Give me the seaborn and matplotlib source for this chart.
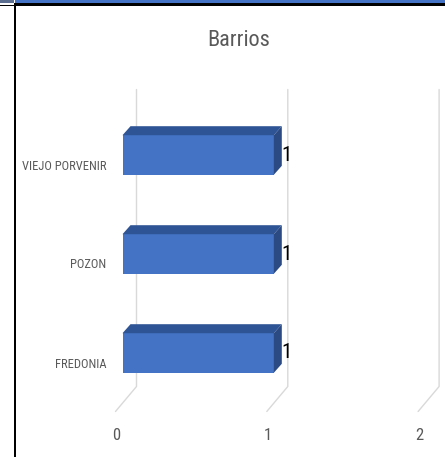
import numpy as np
import pandas as pd
import matplotlib
matplotlib.use('Agg')
import matplotlib.pyplot as plt
import matplotlib.font_manager as fm
import seaborn as sns
from matplotlib.patches import Polygon, Rectangle
from matplotlib.lines import Line2D
from matplotlib.transforms import ScaledTranslation, IdentityTransform

# datos del grafico
categorias = ['VIEJO PORVENIR', 'POZON', 'FREDONIA']
valores = [1, 1, 1]
ticks_x = [0, 1, 2]
titulo = 'Barrios'

W, H = 445, 457
sns.set_style('white')

# fuente angosta si existe (estilo Calibri comprimido), si no Liberation Sans
disponibles = {f.name for f in fm.fontManager.ttflist}
angostas = [n for n in ['Liberation Sans Narrow', 'Roboto Condensed', 'Noto Sans Condensed',
                        'Open Sans Condensed', 'DejaVu Sans Condensed'] if n in disponibles]
plt.rcParams['font.family'] = angostas + ['Liberation Sans', 'DejaVu Sans']
esc = 1.0 if angostas else 0.85

fig = plt.figure(figsize=(W / 100, H / 100), dpi=100)
ax = fig.add_axes([122.5 / W, (H - 402.5) / H, 302.6 / W, 297 / H])

df = pd.DataFrame({'barrio': categorias, 'cantidad': valores})
sns.barplot(data=df, x='cantidad', y='barrio', orient='h', width=0.4,
            color='#4472C4', saturation=1, linewidth=0, ax=ax, zorder=2)

ax.set_xlim(0, 2)
ax.set_ylim(2.5, -0.5)
ax.set_xticks(ticks_x)
ax.set_xticklabels([str(t) for t in ticks_x])
ax.set_xlabel('')
ax.set_ylabel('')
for s in ax.spines.values():
    s.set_visible(False)
ax.set_facecolor('none')
ax.tick_params(axis='both', length=0)
ax.tick_params(axis='y', pad=16.5 * 0.72, labelsize=9 * esc, labelcolor='#595959')
ax.tick_params(axis='x', pad=26 * 0.72, labelsize=12, labelcolor='#595959')

# etiquetas en el plano frontal (efecto 3D)
for lab in ax.get_yticklabels():
    lab.set_transform(lab.get_transform() + ScaledTranslation(0, -9.5 / 100, fig.dpi_scale_trans))
for lab in ax.get_xticklabels():
    lab.set_transform(lab.get_transform() + ScaledTranslation(-6 / 100, 0, fig.dpi_scale_trans))

# caras superior y lateral de las barras
dx, dy = 8, 9
for bar in list(ax.patches):
    x0, y0 = bar.get_x(), bar.get_y()
    x1, y1 = x0 + bar.get_width(), y0 + bar.get_height()
    (pa, qa), (pb, qb) = ax.transData.transform([(x0, y0), (x1, y1)])
    px0, px1 = min(pa, pb), max(pa, pb)
    ptop, pbot = max(qa, qb), min(qa, qb)
    top = [(px0, ptop), (px1, ptop), (px1 + dx, ptop + dy), (px0 + dx, ptop + dy)]
    side = [(px1, ptop), (px1, pbot), (px1 + dx, pbot + dy), (px1 + dx, ptop + dy)]
    ax.add_patch(Polygon(top, closed=True, transform=IdentityTransform(), clip_on=False,
                         facecolor='#2F5496', edgecolor='none', zorder=2))
    ax.add_patch(Polygon(side, closed=True, transform=IdentityTransform(), clip_on=False,
                         facecolor='#2B4A84', edgecolor='none', zorder=2))

# lineas de cuadricula (pared del fondo + piso)
yb = ax.transData.transform((0, 2.5))[1]
yt = ax.transData.transform((0, -0.5))[1]
for t in ticks_x:
    px = ax.transData.transform((t, 2.5))[0]
    ax.add_line(Line2D([px - 7, px + 14, px + 14], [yb - 9, yb + 16, yt + 16],
                       transform=IdentityTransform(), color='#D9D9D9', lw=1,
                       clip_on=False, zorder=0.5))

ax.bar_label(ax.containers[0], labels=[str(v) for v in valores],
             padding=8 * 0.72, fontsize=15, color='black')

fig.text(239 / W, 1 - 40 / H, titulo, ha='center', va='center', fontsize=16, color='#595959')

# bordes de la captura
fig.add_artist(Rectangle((15, H - 3), W - 15, 3, transform=IdentityTransform(), color='#4472C4', lw=0))
fig.add_artist(Rectangle((0, H - 3), 14, 3, transform=IdentityTransform(), color='#5D6F91', lw=0))
fig.add_artist(Rectangle((14, H - 6), W - 14, 2.7, transform=IdentityTransform(), color='black', lw=0))
fig.add_artist(Rectangle((0, H - 6), 14, 1.3, transform=IdentityTransform(), color='black', lw=0))
fig.add_artist(Rectangle((14, 0), 1.7, H - 3, transform=IdentityTransform(), color='black', lw=0))

fig.savefig('out.png', dpi=100)
